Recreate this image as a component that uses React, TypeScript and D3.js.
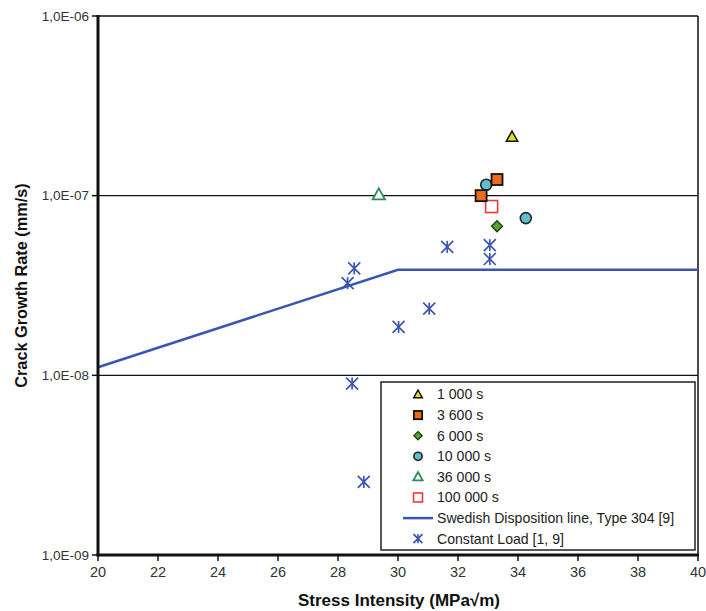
import React from "react";
import * as d3 from "d3";

const W = 706;
const H = 611;
const M = { left: 98, right: 698, top: 16, bottom: 555 };

const xTicks = [20, 22, 24, 26, 28, 30, 32, 34, 36, 38, 40];
const yTicks = [1e-9, 1e-8, 1e-7, 1e-6];
const yTickLabels = ["1,0E-09", "1,0E-08", "1,0E-07", "1,0E-06"];

// [stress intensity, growth rate]
const s1000: [number, number][] = [[33.8, 2.12e-7]];
const s3600: [number, number][] = [[33.3, 1.23e-7], [32.77, 1.0e-7]];
const s6000: [number, number][] = [[33.3, 6.76e-8]];
const s10000: [number, number][] = [[32.94, 1.15e-7], [34.26, 7.5e-8]];
const s36000: [number, number][] = [[29.36, 1.01e-7]];
const s100000: [number, number][] = [[33.12, 8.7e-8]];
const swedishLine: [number, number][] = [[20, 1.11e-8], [30, 3.87e-8], [40, 3.87e-8]];
const constantLoad: [number, number][] = [
  [28.54, 3.94e-8],
  [28.32, 3.26e-8],
  [31.04, 2.35e-8],
  [30.02, 1.86e-8],
  [31.64, 5.19e-8],
  [33.06, 5.3e-8],
  [33.06, 4.44e-8],
  [28.47, 9.0e-9],
  [28.86, 2.55e-9],
];

const legendLabels = [
  "1 000 s",
  "3 600 s",
  "6 000 s",
  "10 000 s",
  "36 000 s",
  "100 000 s",
  "Swedish Disposition line, Type 304 [9]",
  "Constant Load [1, 9]",
];

const BLUE = "#3a55b4";

type Kind = "triY" | "sqO" | "dia" | "circ" | "triOpen" | "sqOpen" | "line" | "star";
const kinds: Kind[] = ["triY", "sqO", "dia", "circ", "triOpen", "sqOpen", "line", "star"];

function Marker({ kind, x, y, s = 1 }: { kind: Kind; x: number; y: number; s?: number }) {
  switch (kind) {
    case "triY": {
      const r = 6 * s;
      return (
        <path
          d={`M${x},${y - r} L${x + r * 0.95},${y + r * 0.7} L${x - r * 0.95},${y + r * 0.7} Z`}
          fill="#e6df1c"
          stroke="#111"
          strokeWidth={1.5}
        />
      );
    }
    case "sqO": {
      const h = 5.5 * s;
      return <rect x={x - h} y={y - h} width={2 * h} height={2 * h} fill="#f06a1e" stroke="#111" strokeWidth={1.8} />;
    }
    case "dia": {
      const r = 5.5 * s;
      return (
        <path d={`M${x},${y - r} L${x + r},${y} L${x},${y + r} L${x - r},${y} Z`} fill="#5aa32a" stroke="#1d3d10" strokeWidth={1.3} />
      );
    }
    case "circ": {
      return <circle cx={x} cy={y} r={5.5 * s} fill="#5fbfd0" stroke="#222" strokeWidth={1.6} />;
    }
    case "triOpen": {
      const r = 6.5 * s;
      return (
        <path
          d={`M${x},${y - r} L${x + r * 0.95},${y + r * 0.7} L${x - r * 0.95},${y + r * 0.7} Z`}
          fill="#fff"
          stroke="#2e8b57"
          strokeWidth={1.8}
        />
      );
    }
    case "sqOpen": {
      const h = 6 * s;
      return <rect x={x - h} y={y - h} width={2 * h} height={2 * h} fill="#fff" stroke="#f03a3a" strokeWidth={1.6} />;
    }
    case "star": {
      const r = 6 * s;
      return (
        <g stroke={BLUE} strokeWidth={1.7} fill="none">
          <line x1={x - r} y1={y - r} x2={x + r} y2={y + r} />
          <line x1={x - r} y1={y + r} x2={x + r} y2={y - r} />
          <line x1={x} y1={y - r} x2={x} y2={y + r} />
        </g>
      );
    }
    case "line":
      return <line x1={x - 15} x2={x + 15} y1={y} y2={y} stroke={BLUE} strokeWidth={2.5} />;
  }
  return null;
}

export default function App() {
  const x = d3.scaleLinear().domain([20, 40]).range([M.left, M.right]);
  const y = d3.scaleLog().domain([1e-9, 1e-6]).range([M.bottom, M.top]);
  const lineGen = d3
    .line<[number, number]>()
    .x((d) => x(d[0]))
    .y((d) => y(d[1]));

  const series: { kind: Kind; data: [number, number][] }[] = [
    { kind: "star", data: constantLoad },
    { kind: "triOpen", data: s36000 },
    { kind: "circ", data: s10000 },
    { kind: "sqOpen", data: s100000 },
    { kind: "dia", data: s6000 },
    { kind: "sqO", data: s3600 },
    { kind: "triY", data: s1000 },
  ];

  const font = "'Liberation Sans', Arial, sans-serif";
  const legX = 381;
  const legY = 382;
  const legW = 314;
  const legH = 168;

  return (
    <svg width={W} height={H} style={{ position: "absolute", left: 0, top: 0, background: "#fff" }} fontFamily={font}>
      <rect width={W} height={H} fill="#fff" />
      {/* gridlines */}
      {yTicks.slice(1, 3).map((t) => (
        <line key={t} x1={M.left} x2={M.right} y1={y(t)} y2={y(t)} stroke="#111" strokeWidth={1.2} />
      ))}
      {/* plot border */}
      <line x1={M.left} x2={M.right} y1={M.top} y2={M.top} stroke="#111" strokeWidth={1.5} />
      <line x1={M.right} x2={M.right} y1={M.top} y2={M.bottom} stroke="#111" strokeWidth={1.5} />
      {/* swedish line */}
      <path d={lineGen(swedishLine) || ""} fill="none" stroke={BLUE} strokeWidth={2.5} />
      {/* markers */}
      {series.map((s) =>
        s.data.map((d, i) => <Marker key={s.kind + i} kind={s.kind} x={x(d[0])} y={y(d[1])} />)
      )}
      {/* axes */}
      <line x1={M.left} x2={M.left} y1={M.top - 1} y2={M.bottom + 1.5} stroke="#111" strokeWidth={3} />
      <line x1={M.left - 1.5} x2={M.right + 1} y1={M.bottom} y2={M.bottom} stroke="#111" strokeWidth={3} />
      {yTicks.map((t, i) => (
        <g key={t}>
          <line x1={M.left - 6} x2={M.left} y1={y(t)} y2={y(t)} stroke="#111" strokeWidth={1.5} />
          <text x={M.left - 9} y={y(t)} dy="0.35em" textAnchor="end" fontSize={13.5} fill="#333">
            {yTickLabels[i]}
          </text>
        </g>
      ))}
      {xTicks.map((t) => (
        <g key={t}>
          <line x1={x(t)} x2={x(t)} y1={M.bottom} y2={M.bottom + 6} stroke="#111" strokeWidth={1.5} />
          <text x={x(t)} y={M.bottom + 22} textAnchor="middle" fontSize={14.5} fill="#333">
            {t}
          </text>
        </g>
      ))}
      <text x={(M.left + M.right) / 2 + 1} y={606} textAnchor="middle" fontSize={17} fontWeight="bold" fill="#111">
        Stress Intensity (MPa√m)
      </text>
      <text
        transform={`translate(27,${(M.top + M.bottom) / 2 + 0}) rotate(-90)`}
        textAnchor="middle"
        fontSize={16.3}
        fontWeight="bold"
        fill="#111"
      >
        Crack Growth Rate (mm/s)
      </text>
      {/* legend */}
      <rect x={legX} y={legY} width={legW} height={legH} fill="#fff" stroke="#222" strokeWidth={1.5} />
      {legendLabels.map((lab, i) => {
        const cy = 394.5 + i * 20.6;
        return (
          <g key={lab}>
            <Marker kind={kinds[i]} x={418} y={cy} s={0.75} />
            <text x={437} y={cy} dy="0.35em" fontSize={14.1} fill="#222">
              {lab}
            </text>
          </g>
        );
      })}
    </svg>
  );
}
